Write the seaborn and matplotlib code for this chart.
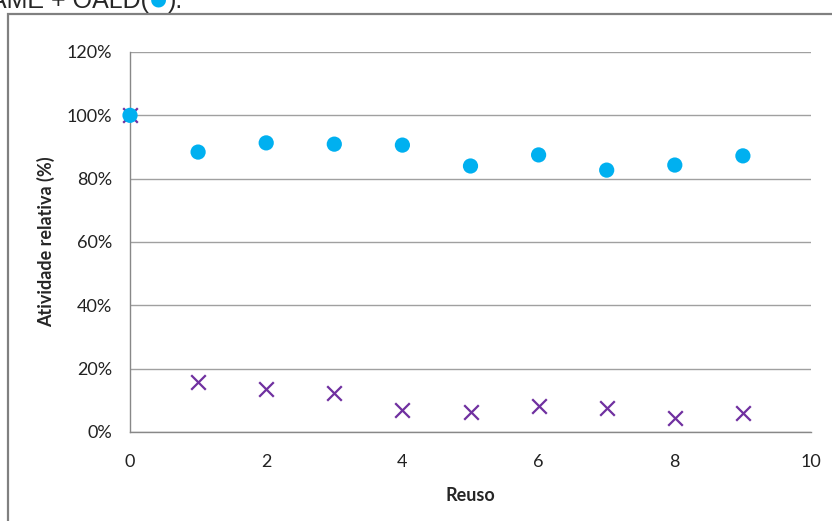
import matplotlib
matplotlib.use("Agg")
import matplotlib.pyplot as plt
import matplotlib.patches as mpatches
from matplotlib.ticker import PercentFormatter
import pandas as pd
import seaborn as sns

reuso = [0, 1, 2, 3, 4, 5, 6, 7, 8, 9]
oald = [100, 88.4, 91.3, 90.9, 90.6, 84.0, 87.5, 82.7, 84.3, 87.2]
livre = [100, 15.8, 13.6, 12.3, 6.9, 6.3, 8.2, 7.6, 4.4, 6.0]

BLUE = "#00B0F0"
PURPLE = "#7030A0"

sns.set_theme(style="white")
plt.rcParams["font.family"] = ["Lato", "DejaVu Sans"]

df = pd.DataFrame({"reuso": reuso, "oald": oald, "livre": livre})

fig = plt.figure(figsize=(8.32, 5.21), dpi=100)
ax = fig.add_axes([130 / 832, 1 - 432 / 521, 681 / 832, 380 / 521])

sns.scatterplot(data=df, x="reuso", y="livre", marker="x", s=110, color=PURPLE,
                linewidth=1.6, ax=ax, zorder=3)
sns.scatterplot(data=df, x="reuso", y="oald", marker="o", s=120, color=BLUE,
                edgecolor="none", ax=ax, zorder=4)
for coll in ax.collections:
    coll.set_clip_on(False)

ax.set_xlim(0, 10)
ax.set_ylim(0, 120)
ax.set_xticks(range(0, 11, 2))
ax.set_yticks(range(0, 121, 20))
ax.yaxis.set_major_formatter(PercentFormatter(decimals=0))
ax.grid(axis="y", color="#A0A0A0", linewidth=1)
ax.set_axisbelow(True)
for side in ["top", "right"]:
    ax.spines[side].set_visible(False)
for side in ["left", "bottom"]:
    ax.spines[side].set_color("#888888")
    ax.spines[side].set_linewidth(1)
ax.tick_params(axis="both", which="major", direction="out", length=5, width=1,
               color="#888888", labelsize=13, labelcolor="#222222")
ax.tick_params(axis="x", pad=11)
ax.tick_params(axis="y", pad=8)
ax.set_xlabel("Reuso", fontsize=13, fontweight="bold", labelpad=12)
ax.set_ylabel("Atividade relativa (%)", fontsize=13, fontweight="bold", labelpad=8)

# outer frame of the original figure (cropped)
frame = mpatches.Rectangle((8 / 832, -0.2), 1.0, 1.2 - 14 / 521, transform=fig.transFigure,
                           fill=False, edgecolor="#808080", linewidth=1.6, clip_on=False)
fig.patches.append(frame)

# caption cut off at the top
t1 = fig.text(-0.012, 1 - 8 / 521, "AME + OALD(", fontsize=18, family="Liberation Sans",
              va="baseline", ha="left")
t2 = fig.text(0, 0, "●", fontsize=14, color=BLUE, family="DejaVu Sans",
              va="center", ha="left")
t3 = fig.text(0, 0, ").", fontsize=18, family="Liberation Sans",
              va="baseline", ha="left")
fig.canvas.draw()
r = fig.canvas.get_renderer()
inv = fig.transFigure.inverted()
x1 = inv.transform((t1.get_window_extent(r).x1, 0))[0]
t2.set_position((x1 + 0.001, 1 + 1 / 521))
fig.canvas.draw()
x2 = inv.transform((t2.get_window_extent(r).x1, 0))[0]
t3.set_position((x2 + 0.001, 1 - 8 / 521))

fig.savefig("out.png", dpi=100)
